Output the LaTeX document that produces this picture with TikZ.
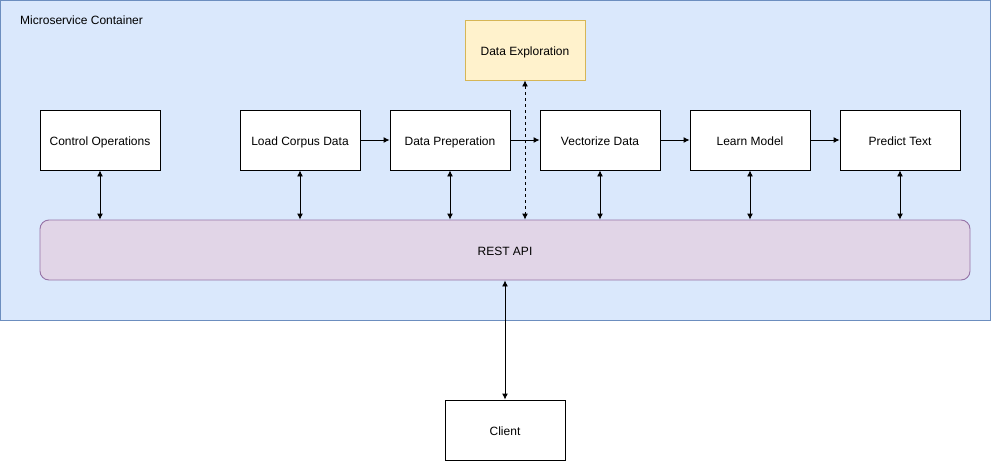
\documentclass[tikz,border=0pt]{standalone}
\usepackage{fontspec}
\setmainfont{Liberation Sans}
\usetikzlibrary{arrows.meta}
\definecolor{contfill}{HTML}{DAE8FC}
\definecolor{contdraw}{HTML}{6C8EBF}
\definecolor{expfill}{HTML}{FFF2CC}
\definecolor{expdraw}{HTML}{D6B656}
\definecolor{apifill}{HTML}{E1D5E7}
\definecolor{apidraw}{HTML}{9673A6}
\tikzset{
  procbox/.style={draw=black, fill=white, line width=0.9pt, minimum width=120pt, minimum height=60pt, inner sep=0pt, text height=10pt, text depth=0pt, font=\fontsize{12}{14}\selectfont},
  arr/.style={line width=0.9pt, -{Latex[length=6pt,width=6pt]}},
  biarr/.style={line width=0.9pt, {Latex[length=6pt,width=6pt]}-{Latex[length=6pt,width=6pt]}},
}
\begin{document}
\begin{tikzpicture}[x=1pt,y=-1pt]
\useasboundingbox (0,0) rectangle (991,461);
\draw[fill=contfill, draw=contdraw, line width=0.9pt] (0.5,0.5) rectangle (990.5,320);
\node[anchor=west, inner sep=0pt, font=\fontsize{12}{14}\selectfont] (title) at (20,20) {Microservice Container};
\node[procbox, fill=expfill, draw=expdraw] (explore) at (525,50) {Data Exploration};
\node[procbox] (ctrl) at (100,140) {Control Operations};
\node[procbox] (load) at (300,140) {Load Corpus Data};
\node[procbox] (prep) at (450,140) {Data Preperation};
\node[procbox] (vec) at (600,140) {Vectorize Data};
\node[procbox] (learn) at (750,140) {Learn Model};
\node[procbox] (pred) at (900,140) {Predict Text};
\node[procbox, draw=apidraw, fill=apifill, rounded corners=9pt, minimum width=930pt] (api) at (505,250) {REST API};
\node[procbox] (client) at (505,430) {Client};
\draw[arr] (load) -- (prep);
\draw[arr] (prep) -- (vec);
\draw[arr] (vec) -- (learn);
\draw[arr] (learn) -- (pred);
\foreach \n in {ctrl,load,prep,vec,learn,pred}{
  \draw[biarr] (\n.south) -- (\n.south |- api.north);
}
\draw[biarr, dashed] (explore.south) -- (explore.south |- api.north);
\draw[biarr] (api.south) -- (client.north);
\end{tikzpicture}
\end{document}
